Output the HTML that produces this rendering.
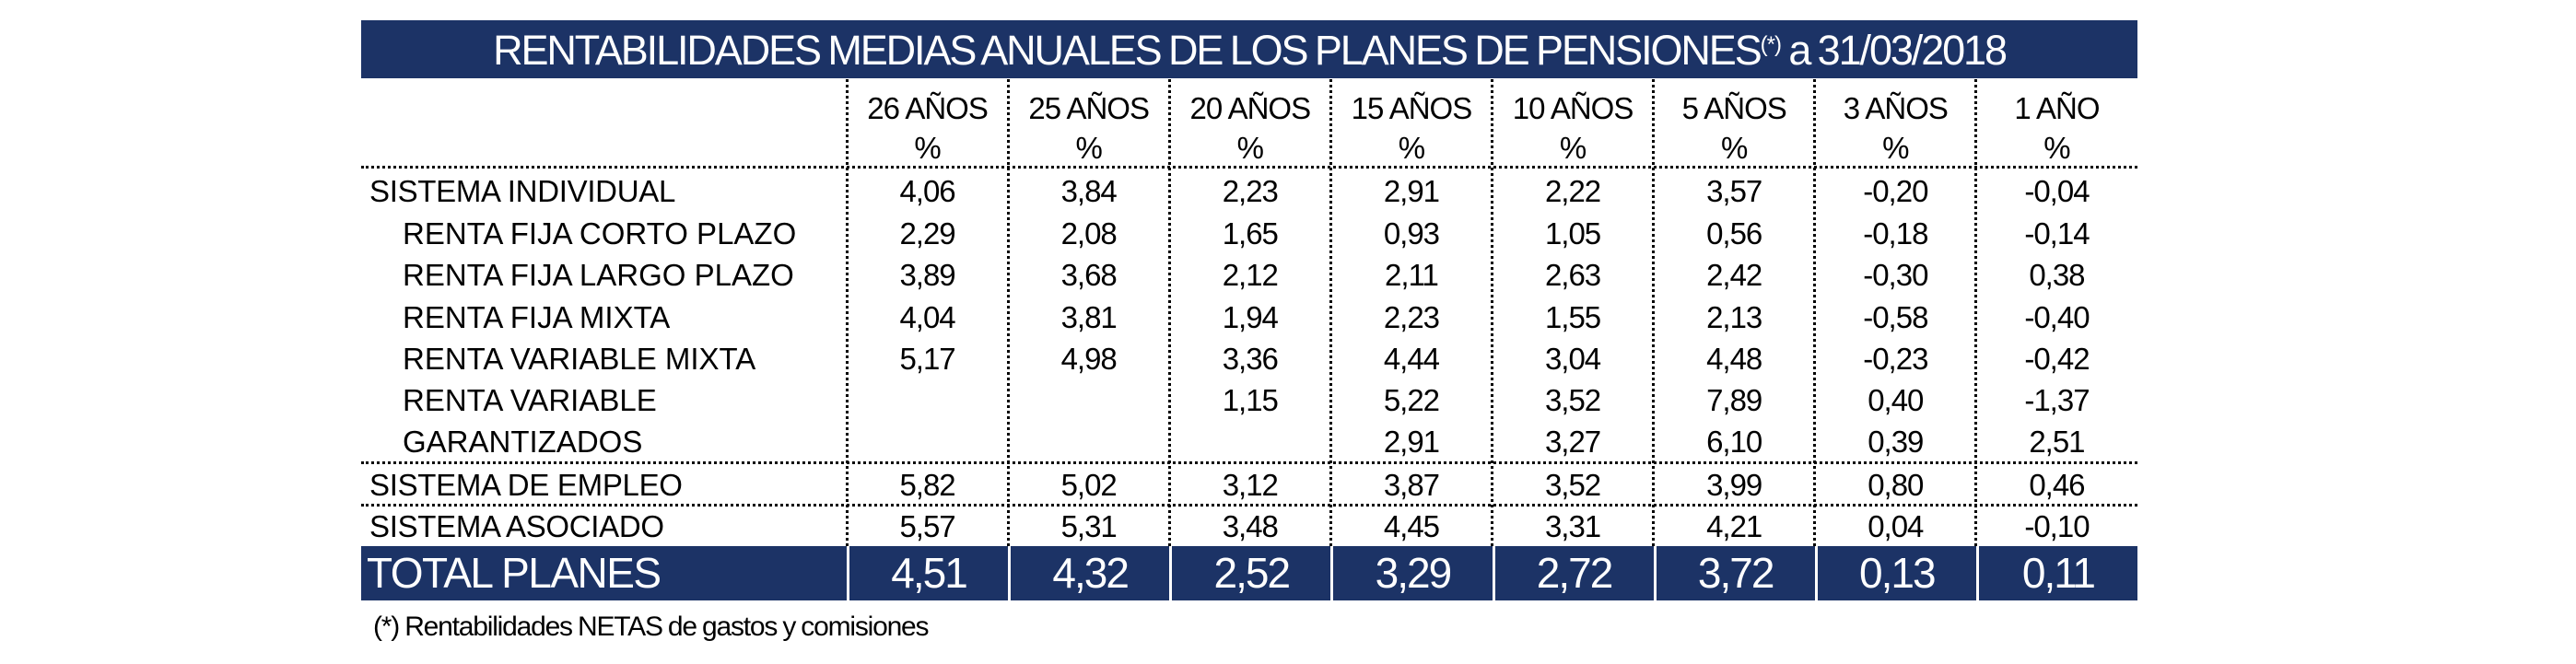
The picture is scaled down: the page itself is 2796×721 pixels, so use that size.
<!DOCTYPE html>
<html><head><meta charset="utf-8"><style>
*{margin:0;padding:0;box-sizing:border-box}
body{width:2796px;height:721px;background:#fff;position:relative;overflow:hidden;font-family:"Liberation Sans",Arial,sans-serif;color:#000}
.title{position:absolute;left:392px;top:22px;width:1928px;height:63px;background:#1c3366;color:#fff;font-size:45px;letter-spacing:-2.1px;word-spacing:-2px;text-align:center;line-height:66px}
.title sup{font-size:24px;letter-spacing:-1px;vertical-align:14px;line-height:0}
.row{position:absolute;left:392px;width:1928px;display:grid;grid-template-columns:527px repeat(8,175.125px);font-size:33px;letter-spacing:-1px;align-items:center}
.row div{text-align:center;white-space:nowrap}
.row div:first-child{text-align:left;padding-left:9px;letter-spacing:-0.3px}
.row.sub div:first-child{padding-left:45px;letter-spacing:0}
.vl{position:absolute;top:86px;height:507px;border-left:3px dotted #000}
.hl{position:absolute;left:392px;width:1928px;border-top:3px dotted #000}
.tot{position:absolute;left:392px;top:593px;height:59px;width:1928px;display:grid;grid-template-columns:527px repeat(8,175.125px);color:#fff;font-size:46px;letter-spacing:-2px;line-height:59px}
.tot div{background:#1c3366;text-align:center;border-left:3px solid #fff}
.tot div:first-child{text-align:left;padding-left:6px;border-left:none;letter-spacing:-1.5px}
.foot{position:absolute;left:405px;top:664px;font-size:30px;letter-spacing:-1.2px;word-spacing:-1px}
</style></head><body>
<div class="title">RENTABILIDADES MEDIAS ANUALES DE LOS PLANES DE PENSIONES<sup>(*)</sup> a 31/03/2018</div>

<div class="vl" style="left:918px"></div>
<div class="vl" style="left:1093px"></div>
<div class="vl" style="left:1268px"></div>
<div class="vl" style="left:1443px"></div>
<div class="vl" style="left:1618px"></div>
<div class="vl" style="left:1793px"></div>
<div class="vl" style="left:1968px"></div>
<div class="vl" style="left:2143px"></div>

<div class="row" style="top:96px;height:44px"><div></div><div>26 AÑOS</div><div>25 AÑOS</div><div>20 AÑOS</div><div>15 AÑOS</div><div>10 AÑOS</div><div>5 AÑOS</div><div>3 AÑOS</div><div>1 AÑO</div></div>
<div class="row" style="top:139px;height:44px"><div></div><div>%</div><div>%</div><div>%</div><div>%</div><div>%</div><div>%</div><div>%</div><div>%</div></div>
<div class="hl" style="top:180px"></div>

<div class="row" style="top:185px;height:46px"><div>SISTEMA INDIVIDUAL</div><div>4,06</div><div>3,84</div><div>2,23</div><div>2,91</div><div>2,22</div><div>3,57</div><div>-0,20</div><div>-0,04</div></div>
<div class="row sub" style="top:231px;height:46px"><div>RENTA FIJA CORTO PLAZO</div><div>2,29</div><div>2,08</div><div>1,65</div><div>0,93</div><div>1,05</div><div>0,56</div><div>-0,18</div><div>-0,14</div></div>
<div class="row sub" style="top:276px;height:46px"><div>RENTA FIJA LARGO PLAZO</div><div>3,89</div><div>3,68</div><div>2,12</div><div>2,11</div><div>2,63</div><div>2,42</div><div>-0,30</div><div>0,38</div></div>
<div class="row sub" style="top:322px;height:46px"><div>RENTA FIJA MIXTA</div><div>4,04</div><div>3,81</div><div>1,94</div><div>2,23</div><div>1,55</div><div>2,13</div><div>-0,58</div><div>-0,40</div></div>
<div class="row sub" style="top:367px;height:46px"><div>RENTA VARIABLE MIXTA</div><div>5,17</div><div>4,98</div><div>3,36</div><div>4,44</div><div>3,04</div><div>4,48</div><div>-0,23</div><div>-0,42</div></div>
<div class="row sub" style="top:412px;height:46px"><div>RENTA VARIABLE</div><div></div><div></div><div>1,15</div><div>5,22</div><div>3,52</div><div>7,89</div><div>0,40</div><div>-1,37</div></div>
<div class="row sub" style="top:457px;height:46px"><div>GARANTIZADOS</div><div></div><div></div><div></div><div>2,91</div><div>3,27</div><div>6,10</div><div>0,39</div><div>2,51</div></div>
<div class="hl" style="top:501px"></div>
<div class="row" style="top:504px;height:45px"><div>SISTEMA DE EMPLEO</div><div>5,82</div><div>5,02</div><div>3,12</div><div>3,87</div><div>3,52</div><div>3,99</div><div>0,80</div><div>0,46</div></div>
<div class="hl" style="top:547px"></div>
<div class="row" style="top:550px;height:44px"><div>SISTEMA ASOCIADO</div><div>5,57</div><div>5,31</div><div>3,48</div><div>4,45</div><div>3,31</div><div>4,21</div><div>0,04</div><div>-0,10</div></div>

<div class="tot"><div>TOTAL PLANES</div><div>4,51</div><div>4,32</div><div>2,52</div><div>3,29</div><div>2,72</div><div>3,72</div><div>0,13</div><div>0,11</div></div>

<div class="foot">(*) Rentabilidades NETAS de gastos y comisiones</div>
</body></html>
